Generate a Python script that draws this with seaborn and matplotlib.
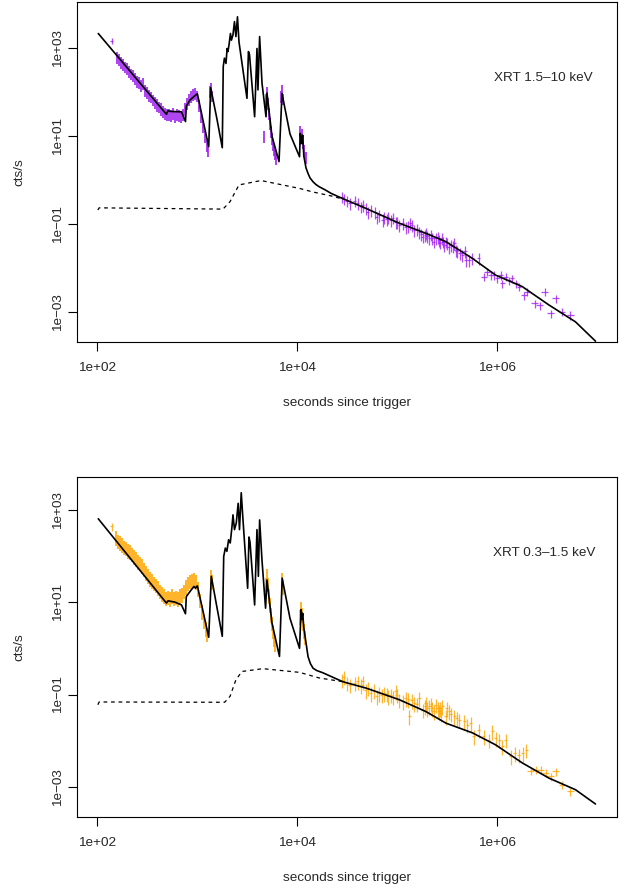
import numpy as np
import matplotlib
matplotlib.use("Agg")
import matplotlib.pyplot as plt
import seaborn as sns

# ---------------- XRT 1.5-10 keV (top panel) ----------------
# densely sampled window-timing data (no visible time bars)
hard_dense_t = [158, 166, 174, 182, 191, 200, 209, 219, 229, 240, 251, 263, 275, 288, 302,
                316, 331, 347, 363, 380, 398, 417, 437, 457, 479, 501, 525, 550, 575, 603,
                631, 661, 692, 724, 759, 794, 832, 871, 912, 955, 1000, 1050, 1100, 1150,
                1200, 1260, 1290, 1350, 1380, 1410, 4730, 4900, 5010, 5130, 5250, 5370,
                5500, 5620, 5750, 5890, 6030, 6170, 6920, 7080, 7240, 10700, 10800, 11100,
                11500, 11700, 12200]
hard_dense_rate = [630, 550, 490, 427, 380, 355, 295, 263, 240, 209, 178, 166, 145, 158, 112,
                   98, 85, 78, 68, 60, 52, 47, 42, 37, 33, 31, 32, 29.5, 33, 29,
                   31.6, 30, 28, 31, 42, 56, 69, 79, 89, 93, 83, 50, 28, 16.6,
                   10, 6.3, 4.8, 105, 126, 83, 10, 71, 100, 56, 33, 20,
                   13, 9.1, 6.6, 5.0, 4.0, 3.2, 79, 112, 71, 8.9, 13, 11,
                   7.1, 4.8, 3.3]
hard_dense_err = [190, 165, 147, 128, 114, 107, 89, 79, 72, 63, 53, 50, 44, 47, 34,
                  29, 26, 23, 20, 18, 16, 14, 13, 11, 10, 9.3, 9.6, 8.9, 10, 8.7,
                  9.5, 9, 8.4, 9.3, 13, 17, 21, 24, 27, 28, 25, 15, 8.4, 5,
                  3, 1.9, 1.4, 32, 38, 25, 3, 21, 30, 17, 10, 6,
                  3.9, 2.7, 2.0, 1.5, 1.2, 1.0, 24, 34, 21, 2.7, 3.9, 3.3,
                  2.1, 1.4, 1.0]
# binned data with time bars
hard_bin_t = [140, 28200, 29500, 31600, 33900, 38000, 40500, 43700, 45400, 49000, 51300,
              55000, 60300, 62500, 66500, 72400, 74600, 79400, 80500, 87100, 91200, 97700,
              100000, 105000, 114000, 123000, 129000, 136000, 141000, 149000, 158000,
              167000, 174000, 180000, 191000, 195000, 200000, 210000, 219000, 226000,
              234000, 245000, 257000, 264000, 269000, 281000, 288000, 296000, 309000,
              319000, 331000, 345000, 363000, 372000, 387000, 398000, 427000, 451000,
              479000, 488000, 526000, 568000, 661000, 741000, 800000, 865000, 933000,
              1.01e6, 1.09e6, 1.13e6, 1.22e6, 1.32e6, 1.42e6, 1.54e6, 1.66e6, 1.86e6,
              2.00e6, 2.39e6, 2.67e6, 3.01e6, 3.44e6, 3.85e6, 4.48e6, 5.43e6]
hard_bin_rate = [1480, 0.418, 0.38, 0.34, 0.295, 0.339, 0.295, 0.25, 0.270, 0.227, 0.19,
                 0.208, 0.190, 0.147, 0.160, 0.126, 0.147, 0.132, 0.147, 0.123, 0.138, 0.113,
                 0.11, 0.095, 0.104, 0.087, 0.089, 0.104, 0.095, 0.073, 0.079,
                 0.067, 0.060, 0.0515, 0.056, 0.0614, 0.054, 0.0472, 0.0575, 0.0472,
                 0.040, 0.0472, 0.050, 0.0433, 0.038, 0.0472, 0.040, 0.0333, 0.040,
                 0.0364, 0.030, 0.0333, 0.0316, 0.0364, 0.0256, 0.024, 0.0219, 0.0197,
                 0.024, 0.0152, 0.0152, 0.0166, 0.0166, 0.00635, 0.00826, 0.00693, 0.00693,
                 0.00583, 0.00693, 0.00449, 0.00635, 0.00533, 0.00583, 0.00449, 0.00377, 0.00243,
                 0.0029, 0.00157, 0.00144, 0.0029, 0.000933, 0.00205, 0.00102, 0.000855]
hard_bin_err = [250, 0.12, 0.11, 0.10, 0.09, 0.10, 0.09, 0.075, 0.08, 0.07, 0.057,
                0.06, 0.06, 0.045, 0.05, 0.04, 0.045, 0.04, 0.045, 0.037, 0.04, 0.034,
                0.033, 0.029, 0.031, 0.026, 0.027, 0.031, 0.029, 0.022, 0.024,
                0.020, 0.018, 0.015, 0.017, 0.018, 0.016, 0.014, 0.017, 0.014,
                0.012, 0.014, 0.015, 0.013, 0.011, 0.014, 0.012, 0.010, 0.012,
                0.011, 0.009, 0.010, 0.0095, 0.011, 0.0077, 0.0072, 0.0066, 0.0059,
                0.007, 0.0045, 0.0045, 0.005, 0.005, 0.0013, 0.0017, 0.0015, 0.0015,
                0.0012, 0.0015, 0.0009, 0.0013, 0.0011, 0.0012, 0.0009, 0.0008, 0.0005,
                0.0006, 0.0003, 0.0003, 0.0006, 0.0002, 0.0004, 0.0002, 0.00018]
hard_bin_terr = [6, 1000, 1000, 1100, 1200, 1300, 1400, 1500, 1500, 1700, 1800,
                 1900, 2000, 2100, 2300, 2500, 2600, 2800, 2800, 3000, 3100, 3400,
                 3500, 3600, 3900, 4200, 4500, 4700, 4900, 5100, 5400,
                 5700, 6000, 6200, 6700, 6700, 6900, 7200, 7500, 7800,
                 8000, 8400, 8800, 9100, 9400, 9700, 9900, 10000, 10800,
                 11000, 11400, 12000, 12500, 12800, 13300, 13900, 15000, 16000,
                 17000, 17000, 30000, 20000, 23000, 45000, 50000, 50000, 50000,
                 55000, 60000, 60000, 65000, 70000, 75000, 80000, 85000, 1.4e5,
                 1.5e5, 1.8e5, 2.0e5, 2.3e5, 2.6e5, 2.9e5, 3.4e5, 4.1e5]
# best-fitting model (solid) and underlying afterglow component (dashed)
hard_model_t = [103, 495, 513, 537, 700, 767, 782, 851, 944, 993, 1010, 1150, 1310, 1370,
                1580, 1790, 1830, 1880, 1950, 2000, 2040, 2090, 2160, 2210, 2290, 2370,
                2450, 2540, 2630, 3160, 3270, 3350, 3770, 3980, 4070, 4230, 4470, 4900,
                5010, 5620, 6610, 7080, 8510, 10600, 10800, 11100, 11400, 11700, 12300,
                12900, 13500, 14500, 15500, 16600, 19100, 21900, 28600, 45400, 105000,
                195000, 309000, 568000, 971000, 1.79e6, 3.31e6, 6.1e6, 9.66e6]
hard_model_rate = [2140, 31.1, 38, 36.3, 35.5, 21.4, 47.9, 66, 81, 89, 91, 22.4, 5.75, 126,
                   25, 5.43, 380, 589, 447, 977, 832, 1175, 2140, 1510, 2000, 3980,
                   1820, 5130, 1380, 72, 832, 708, 27.5, 977, 112, 1820, 158, 27.5,
                   95, 10, 2.63, 93, 11.2, 3.39, 11.5, 6.76, 10.5, 3.55, 1.9,
                   1.41, 1.12, 0.91, 0.79, 0.71, 0.6, 0.50, 0.38, 0.245, 0.105,
                   0.0616, 0.0398, 0.0166, 0.00692, 0.0038, 0.00145, 0.0006, 0.000219]
hard_dash_t = [102, 105, 1820, 2140, 2630, 4370, 10600, 14400, 21900, 28600]
hard_dash_rate = [0.209, 0.234, 0.219, 0.324, 0.776, 0.977, 0.646, 0.537, 0.437, 0.372]

# ---------------- XRT 0.3-1.5 keV (bottom panel) ----------------
soft_dense_t = [155, 162, 170, 178, 186, 195, 204, 214, 224, 234, 245, 257, 269, 282, 295,
                309, 324, 339, 355, 372, 389, 407, 427, 447, 468, 490, 513, 537, 562, 589,
                617, 646, 676, 708, 741, 776, 813, 851, 891, 933, 977, 1020, 1070, 1120,
                1170, 1230, 1260, 1380, 1410, 4900, 5010, 5130, 5250, 5370, 5500, 5620,
                5750, 5890, 6030, 7080, 7240, 10700, 11000, 11200, 11500, 11700, 12000]
soft_dense_rate = [251, 214, 200, 178, 158, 151, 132, 126, 112, 100, 91, 76, 72, 63, 52.5,
                   44.7, 38, 33, 30, 26.3, 24, 20.9, 17.8, 15.8, 14.1, 12.6, 13.2, 12, 14.1, 12.6,
                   13.2, 12, 14.1, 15.1, 17.8, 21.9, 26.3, 28.8, 30.2, 31.6, 28.2, 20, 11.2, 6.3,
                   4.0, 2.8, 2.1, 36, 28, 25, 38, 25, 14, 8.9, 5.6, 3.55,
                   2.4, 1.66, 1.26, 31.6, 22.4, 5.0, 7.6, 5.6, 3.55, 2.5, 1.78]
soft_dense_err = [88, 75, 70, 62, 55, 53, 46, 44, 39, 35, 32, 27, 25, 22, 18,
                  16, 13, 12, 10.5, 9.2, 8.4, 7.3, 6.2, 5.5, 4.9, 4.4, 4.6, 4.2, 4.9, 4.4,
                  4.6, 4.2, 4.9, 5.3, 6.2, 7.7, 9.2, 10, 10.6, 11, 9.9, 7.0, 3.9, 2.2,
                  1.4, 1.0, 0.7, 12.6, 9.8, 8.8, 13, 8.8, 4.9, 3.1, 2.0, 1.2,
                  0.84, 0.58, 0.44, 11, 7.8, 1.75, 2.7, 2.0, 1.2, 0.88, 0.62]
soft_bin_t = [140, 28200, 29500, 31600, 33900, 38000, 40500, 43700, 45400, 49000, 51300,
              55000, 58900, 62500, 66500, 70800, 74600, 79400, 80500, 87100, 91200, 97700,
              100000, 105000, 114000, 123000, 129000, 132000, 141000, 149000, 158000,
              167000, 180000, 191000, 195000, 200000, 210000, 219000, 226000, 234000,
              245000, 257000, 264000, 269000, 275000, 285000, 308000, 316000, 332000,
              347000, 372000, 398000, 418000, 469000, 506000, 546000, 589000, 661000,
              741000, 832000, 897000, 971000, 1.05e6, 1.13e6, 1.22e6, 1.37e6, 1.51e6,
              1.66e6, 1.82e6, 1.96e6, 2.17e6, 2.43e6, 2.73e6, 3.06e6, 3.44e6, 3.85e6,
              4.48e6, 5.43e6]
soft_bin_rate = [437, 0.209, 0.24, 0.182, 0.163, 0.178, 0.192, 0.158, 0.192, 0.127, 0.141,
                 0.108, 0.126, 0.091, 0.108, 0.100, 0.108, 0.105, 0.091, 0.099, 0.089, 0.117,
                 0.10, 0.077, 0.071, 0.084, 0.079, 0.0337, 0.076, 0.0655, 0.063,
                 0.084, 0.0469, 0.056, 0.0655, 0.050, 0.0553, 0.063, 0.0509, 0.0447,
                 0.0601, 0.050, 0.0432, 0.05, 0.040, 0.0553, 0.0337, 0.050, 0.0432,
                 0.038, 0.0337, 0.0316, 0.0285, 0.0262, 0.0222, 0.0242, 0.0124, 0.0173,
                 0.0124, 0.0105, 0.0159, 0.0114, 0.0105, 0.00753, 0.0105, 0.00457, 0.00542,
                 0.00498, 0.00542, 0.00638, 0.00217, 0.00236, 0.00236, 0.002, 0.00169, 0.00217,
                 0.00112, 0.0008]
soft_bin_err = [90, 0.07, 0.08, 0.06, 0.055, 0.06, 0.065, 0.055, 0.065, 0.045, 0.05,
                0.038, 0.044, 0.032, 0.038, 0.035, 0.038, 0.037, 0.032, 0.035, 0.031, 0.041,
                0.035, 0.027, 0.025, 0.029, 0.028, 0.012, 0.027, 0.023, 0.022,
                0.029, 0.016, 0.02, 0.023, 0.018, 0.019, 0.022, 0.018, 0.016,
                0.021, 0.018, 0.015, 0.018, 0.014, 0.019, 0.012, 0.018, 0.015,
                0.013, 0.012, 0.011, 0.01, 0.0092, 0.0078, 0.0085, 0.0043, 0.006,
                0.0043, 0.0037, 0.0056, 0.004, 0.0037, 0.0026, 0.0037, 0.0016, 0.0019,
                0.0017, 0.0019, 0.0022, 0.0004, 0.0005, 0.0005, 0.0004, 0.00035, 0.00045,
                0.00023, 0.00017]
soft_bin_terr = [6, 1000, 1000, 1100, 1200, 1300, 1400, 1500, 1500, 1700, 1800,
                 1900, 2000, 2100, 2300, 2400, 2600, 2800, 2800, 3000, 3100, 3400,
                 3500, 3600, 3900, 4200, 4500, 4500, 4800, 5100, 5400,
                 5700, 6200, 6700, 6700, 6900, 7200, 7500, 7800, 8000,
                 8400, 8800, 9100, 9400, 9500, 9800, 10600, 10900, 11400,
                 12000, 12800, 13900, 14400, 16100, 17400, 18800, 20300, 22800,
                 25500, 28700, 30900, 33400, 36200, 39000, 42000, 47000, 52000,
                 57000, 63000, 68000, 1.7e5, 1.9e5, 2.2e5, 2.4e5, 2.7e5, 3.0e5,
                 3.5e5, 4.3e5]
soft_model_t = [103, 495, 513, 603, 700, 767, 782, 851, 933, 966, 1000, 1010, 1150, 1310,
                1390, 1580, 1790, 1850, 1920, 1990, 2070, 2150, 2240, 2290, 2370, 2470,
                2580, 2660, 2770, 2870, 3210, 3310, 3390, 3770, 3980, 4110, 4230, 4470,
                4850, 5010, 5620, 6680, 7110, 8510, 10600, 11000, 11200, 11400, 11700,
                12900, 13600, 14500, 15800, 18200, 28600, 49000, 105000, 195000, 309000,
                568000, 971000, 1.79e6, 3.31e6, 6.1e6, 9.66e6]
soft_model_rate = [638, 9.55, 10.7, 10.0, 8.7, 5.6, 13.2, 17, 21.9, 20, 22.4, 22.4, 6.3, 1.74,
                   36.3, 7.9, 1.82, 97.7, 148, 126, 224, 191, 437, 776, 372, 513,
                   1380, 372, 2340, 708, 20, 257, 200, 8.7, 372, 36.3, 603, 79,
                   7.4, 30.2, 3.55, 0.668, 33.1, 4.47, 1.0, 6.9, 4.2, 5.75, 2.8,
                   0.66, 0.47, 0.37, 0.33, 0.295, 0.19, 0.138, 0.0776, 0.0427, 0.024,
                   0.0148, 0.00813, 0.00331, 0.00155, 0.00087, 0.000427]
soft_dash_t = [102, 105, 1890, 2140, 2450, 2820, 4570, 10600, 16600, 28600]
soft_dash_rate = [0.060, 0.069, 0.068, 0.091, 0.209, 0.316, 0.363, 0.302, 0.229, 0.19]

x_ticks = [1e2, 1e4, 1e6]
x_tick_labels = ["1e+02", "1e+04", "1e+06"]
y_ticks = [1e3, 1e1, 1e-1, 1e-3]
y_tick_labels = ["1e+03", "1e+01", "1e\u221201", "1e\u221203"]

sns.set_style("ticks")
plt.rcParams["font.family"] = ["Liberation Sans", "DejaVu Sans"]
plt.rcParams["font.size"] = 9.7


def draw_panel(ax, dense, binned, model, dash, color, label, label_xy, ylim):
    ax.errorbar(dense[0], dense[1], yerr=dense[2], fmt="none", ecolor=color,
                elinewidth=1.4, alpha=0.85, capsize=0)
    ax.errorbar(binned[0], binned[1], yerr=binned[2], xerr=binned[3], fmt="none",
                ecolor=color, elinewidth=0.9, alpha=0.8, capsize=0)
    sns.lineplot(x=dash[0], y=dash[1], sort=False, estimator=None, color="black",
                 linewidth=0.9, linestyle=(0, (3, 3)), ax=ax)
    sns.lineplot(x=model[0], y=model[1], sort=False, estimator=None, color="black",
                 linewidth=1.2, ax=ax)
    ax.set_xscale("log")
    ax.set_yscale("log")
    ax.set_xlim(63.1, 1.585e7)
    ax.set_ylim(*ylim)
    ax.minorticks_off()
    ax.set_xticks(x_ticks)
    ax.set_xticklabels(x_tick_labels)
    ax.set_yticks(y_ticks)
    ax.set_yticklabels(y_tick_labels, rotation=90, va="center")
    ax.tick_params(direction="out", length=6.3, width=0.8, color="black", pad=8)
    ax.tick_params(axis="y", pad=3)
    for s in ax.spines.values():
        s.set_color("black")
        s.set_linewidth(0.8)
    ax.set_xlabel("seconds since trigger", labelpad=17)
    ax.set_ylabel("cts/s", labelpad=19)
    ax.text(label_xy[0], label_xy[1], label, ha="left", va="center")


fig = plt.figure(figsize=(6.26, 8.90), dpi=100)
ax1 = fig.add_axes([0.123, 0.6157, 0.8626, 0.382])
ax2 = fig.add_axes([0.123, 0.0823, 0.8626, 0.382])

draw_panel(ax1,
           (hard_dense_t, hard_dense_rate, hard_dense_err),
           (hard_bin_t, hard_bin_rate, hard_bin_err, hard_bin_terr),
           (hard_model_t, hard_model_rate),
           (hard_dash_t, hard_dash_rate),
           "#A020F0", "XRT 1.5\u201310 keV", (9.3e5, 208), (2.09e-4, 1.11e4))
draw_panel(ax2,
           (soft_dense_t, soft_dense_rate, soft_dense_err),
           (soft_bin_t, soft_bin_rate, soft_bin_err, soft_bin_terr),
           (soft_model_t, soft_model_rate),
           (soft_dash_t, soft_dash_rate),
           "#FFA500", "XRT 0.3\u20131.5 keV", (9.1e5, 115), (2.26e-4, 5180))

fig.savefig("out.png", dpi=100)
